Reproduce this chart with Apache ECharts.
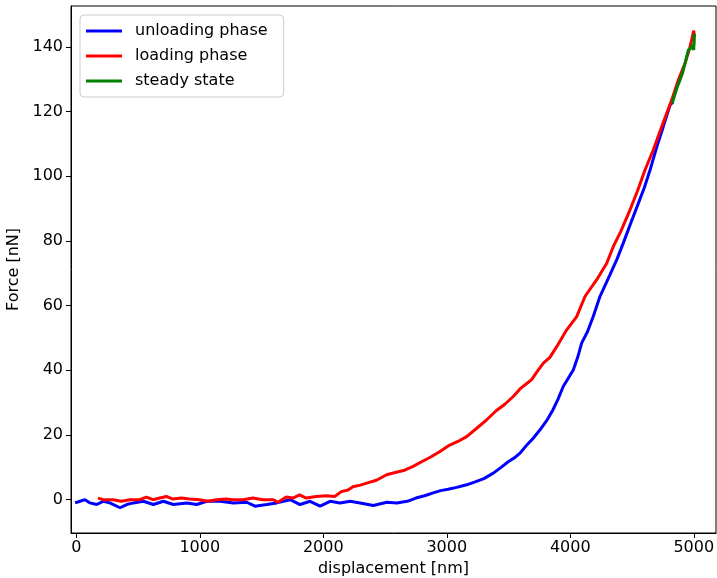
<!DOCTYPE html>
<html>
<head>
<meta charset="utf-8">
<script src="https://cdn.jsdelivr.net/npm/echarts@6/dist/echarts.min.js"></script>
<style>
  html, body { margin: 0; padding: 0; background: #fff; }
  #chart { width: 717px; height: 578px; }
</style>
</head>
<body>
<div id="chart"></div>
<script>
// data
const seriesNames = ['unloading phase', 'loading phase', 'steady state']

const unloadX = [-10, 30, 70, 111, 165, 217, 271, 354, 408, 462, 543, 624, 705, 786, 894, 975, 1056, 1164, 1272, 1380, 1447, 1542, 1623, 1731, 1812, 1893, 1974, 2055, 2136, 2217, 2298, 2406, 2514, 2595, 2680, 2750, 2820, 2890, 2950, 3010, 3080, 3161, 3230, 3300, 3377, 3440, 3500, 3550, 3593, 3650, 3700, 3755, 3810, 3860, 3900, 3943, 4024, 4060, 4092, 4140, 4186, 4240, 4321, 4380, 4429, 4490, 4551, 4600, 4646, 4700, 4753, 4808, 4835]
const unloadY = [-1, -0.5, 0, -1, -1.5, -0.5, -1, -2.5, -1.5, -1, -0.5, -1.5, -0.5, -1.5, -1, -1.5, -0.5, -0.5, -1, -0.8, -2, -1.5, -1, 0, -1.5, -0.5, -2, -0.5, -1, -0.5, -1, -1.8, -0.8, -1, -0.5, 0.5, 1.2, 2.1, 2.8, 3.2, 3.8, 4.6, 5.5, 6.5, 8.2, 10, 11.8, 13, 14.4, 17, 19, 21.6, 24.5, 27.8, 31, 35, 40.1, 44, 48.4, 52, 56.6, 62.8, 69.5, 74.5, 79.3, 85.5, 91.6, 96.5, 101.9, 109, 115.3, 122, 123]

const loadX = [175, 217, 298, 365, 433, 514, 567, 621, 675, 729, 783, 850, 917, 998, 1066, 1133, 1214, 1268, 1349, 1430, 1511, 1592, 1632, 1700, 1754, 1808, 1862, 1943, 2024, 2092, 2146, 2200, 2240, 2300, 2351, 2430, 2513, 2591, 2650, 2727, 2800, 2870, 2945, 3020, 3090, 3161, 3240, 3323, 3400, 3470, 3538, 3600, 3650, 3687, 3730, 3782, 3835, 3890, 3971, 4052, 4119, 4214, 4295, 4348, 4410, 4484, 4545, 4605, 4672, 4740, 4821, 4875, 4930, 4970, 5000, 5005]
const loadY = [0.5, 0, 0, -0.5, 0, 0, 0.8, 0, 0.5, 1, 0.2, 0.5, 0.2, 0, -0.5, 0, 0.2, 0, 0, 0.5, 0, 0, -0.8, 0.8, 0.5, 1.5, 0.5, 1, 1.2, 1, 2.5, 3, 4, 4.5, 5.1, 6, 7.7, 8.5, 9, 10.3, 11.8, 13.2, 14.9, 16.8, 18, 19.5, 22, 24.7, 27.5, 29.5, 31.9, 34.5, 36, 37.1, 39.5, 42.2, 44, 47.3, 52.5, 56.6, 62.8, 68, 73.1, 78.2, 83, 89.6, 95.5, 101.9, 108.1, 115.3, 123.5, 129.7, 135, 140, 145, 143]

const steadyX = [4825, 4845, 4870, 4888, 4910, 4930, 4956, 4975, 4985, 4995, 5000, 5002, 5005, 5003, 5000]
const steadyY = [122.5, 125, 128, 129.7, 132, 135, 139, 139.5, 140.5, 141, 139, 143, 144, 141, 140]

const xTicks = [0, 1000, 2000, 3000, 4000, 5000]
const yTicks = [0, 20, 40, 60, 80, 100, 120, 140]

const zip = (xs, ys) => xs.map((x, i) => [x, ys[i]])

const chart = echarts.init(document.getElementById('chart'))

const font = 'DejaVu Sans'

const lineSeries = (name, xs, ys, color) => ({
  name: name,
  type: 'line',
  data: zip(xs, ys),
  showSymbol: false,
  symbol: 'none',
  lineStyle: { color: color, width: 3 },
  itemStyle: { color: color },
  animation: false
})

chart.setOption({
  animation: false,
  textStyle: { fontFamily: font },
  grid: {
    left: 71, right: 1, top: 6, bottom: 45,
    containLabel: false,
    outerBoundsMode: 'none',
    show: true, borderColor: '#000', borderWidth: 1
  },
  legend: {
    orient: 'vertical',
    left: 80,
    top: 15,
    data: seriesNames,
    icon: 'rect',
    itemWidth: 36,
    itemHeight: 3,
    itemGap: 5,
    padding: [6, 16, 6, 6],
    backgroundColor: '#fff',
    borderColor: '#ccc',
    borderWidth: 1,
    borderRadius: 4,
    textStyle: { fontFamily: font, fontSize: 16, color: '#000', lineHeight: 20, padding: [0, 0, 0, 8] }
  },
  xAxis: {
    type: 'value',
    min: -43,
    max: 5180,
    name: 'displacement [nm]',
    nameLocation: 'middle',
    nameGap: 27,
    nameTextStyle: { fontFamily: font, fontSize: 16, color: '#000' },
    splitLine: { show: false },
    axisLine: { show: true, onZero: false, lineStyle: { color: '#000', width: 1 } },
    axisTick: { show: true, length: 5, lineStyle: { color: '#000' }, customValues: xTicks },
    axisLabel: { color: '#000', fontSize: 16, fontFamily: font, margin: 7, customValues: xTicks, formatter: v => String(v) }
  },
  yAxis: {
    type: 'value',
    min: -10.3,
    max: 152.6,
    name: 'Force [nN]',
    nameLocation: 'middle',
    nameGap: 44,
    nameRotate: 90,
    nameTextStyle: { fontFamily: font, fontSize: 16, color: '#000' },
    splitLine: { show: false },
    axisLine: { show: true, onZero: false, lineStyle: { color: '#000', width: 1 } },
    axisTick: { show: true, length: 5, lineStyle: { color: '#000' }, customValues: yTicks },
    axisLabel: { color: '#000', fontSize: 16, fontFamily: font, margin: 8, customValues: yTicks, formatter: v => String(v) }
  },
  series: [
    lineSeries(seriesNames[0], unloadX, unloadY, '#0000ff'),
    lineSeries(seriesNames[1], loadX, loadY, '#ff0000'),
    lineSeries(seriesNames[2], steadyX, steadyY, '#008000')
  ]
})
</script>
</body>
</html>
